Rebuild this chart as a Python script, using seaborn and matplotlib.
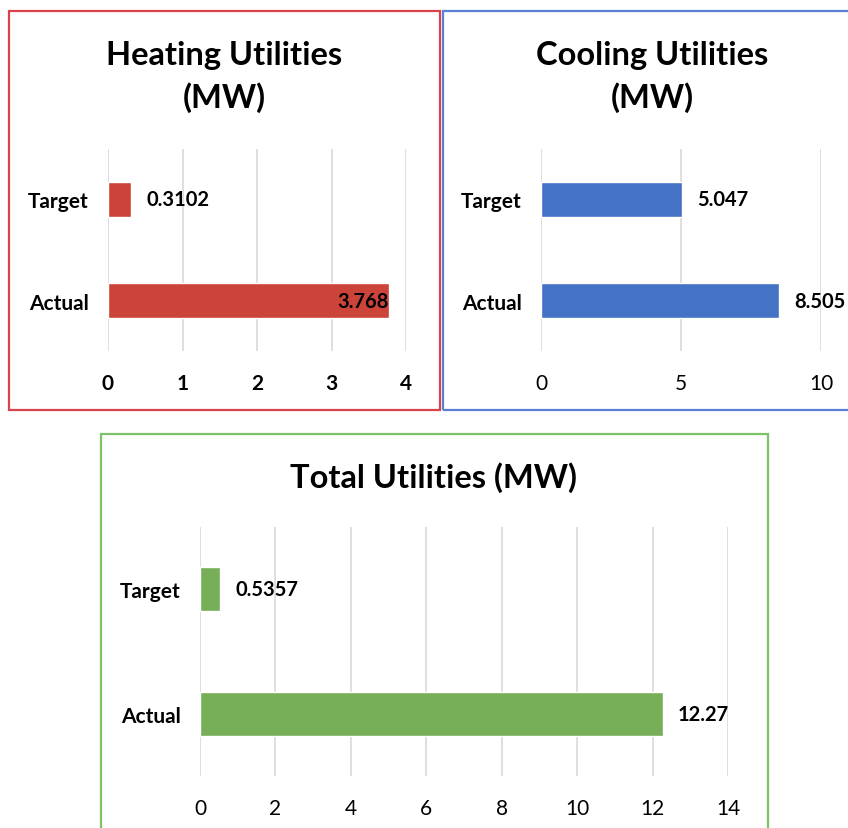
import matplotlib
matplotlib.use("Agg")
import matplotlib.pyplot as plt
from matplotlib.patches import Rectangle
import pandas as pd
import seaborn as sns

# data
categories = ["Target", "Actual"]
heating = [0.3102, 3.768]
cooling = [5.047, 8.505]
total = [0.5357, 12.27]
heating_labels = ["0.3102", "3.768"]
cooling_labels = ["5.047", "8.505"]
total_labels = ["0.5357", "12.27"]

sns.set_theme(style="white")
plt.rcParams["font.family"] = ["Lato", "DejaVu Sans"]
plt.rcParams["text.color"] = "black"
plt.rcParams["xtick.color"] = "black"
plt.rcParams["ytick.color"] = "black"

W, H = 848, 829
fig = plt.figure(figsize=(W / 100, H / 100), dpi=100)


def px_axes(x0, y0, x1, y1):
    """axes from pixel box (top-left origin)"""
    return fig.add_axes([x0 / W, 1 - y1 / H, (x1 - x0) / W, (y1 - y0) / H])


def frame(x0, y0, x1, y1, color):
    fig.patches.append(Rectangle((x0 / W, 1 - y1 / H), (x1 - x0) / W, (y1 - y0) / H,
                                 transform=fig.transFigure, fill=False,
                                 edgecolor=color, linewidth=1.6))


def panel(ax, values, labels, color, xmax, step, tick_bold, inside_last=False):
    df = pd.DataFrame({"cat": categories, "val": values})
    sns.barplot(data=df, x="val", y="cat", orient="h", color=color,
                saturation=1, width=0.35, ax=ax)
    ax.set_xlim(0, xmax)
    ax.set_xticks(range(0, xmax + 1, step))
    ax.set_xlabel("")
    ax.set_ylabel("")
    ax.grid(axis="x", color="#D9D9D9", linewidth=1.2)
    ax.set_axisbelow(True)
    for s in ax.spines.values():
        s.set_visible(False)
    ax.tick_params(axis="x", length=0, pad=16, labelsize=15)
    ax.tick_params(axis="y", length=0, pad=14, labelsize=15)
    for t in ax.get_yticklabels():
        t.set_fontweight("bold")
    if tick_bold:
        for t in ax.get_xticklabels():
            t.set_fontweight("bold")
    texts = ax.bar_label(ax.containers[0], labels=labels, padding=11,
                         fontsize=14.5, fontweight="bold", color="black")
    if inside_last:
        texts[-1].set_ha("right")
        texts[-1].xyann = (0, 0)


# Heating
frame(9, 12, 440, 411, "#D9434A")
ax1 = px_axes(108, 150, 406, 352)
panel(ax1, heating, heating_labels, "#CC4339", 4, 1, True, inside_last=True)
fig.text(224 / W, 1 - 77 / H, "Heating Utilities\n(MW)", ha="center", va="center",
         fontsize=23.5, fontweight="bold", linespacing=1.45)

# Cooling
frame(443, 12, 860, 411, "#5B7FD6")
ax2 = px_axes(541, 150, 821, 352)
panel(ax2, cooling, cooling_labels, "#4472C4", 10, 5, False)
fig.text(652 / W, 1 - 77 / H, "Cooling Utilities\n(MW)", ha="center", va="center",
         fontsize=23.5, fontweight="bold", linespacing=1.45)

# Total
frame(101, 435, 768, 840, "#7CC26A")
ax3 = px_axes(200, 528, 728, 777)
panel(ax3, total, total_labels, "#76AF57", 14, 2, False)
fig.text(434 / W, 1 - 478 / H, "Total Utilities (MW)", ha="center", va="center",
         fontsize=23.5, fontweight="bold")

fig.savefig("out.png", dpi=100, facecolor="white")
